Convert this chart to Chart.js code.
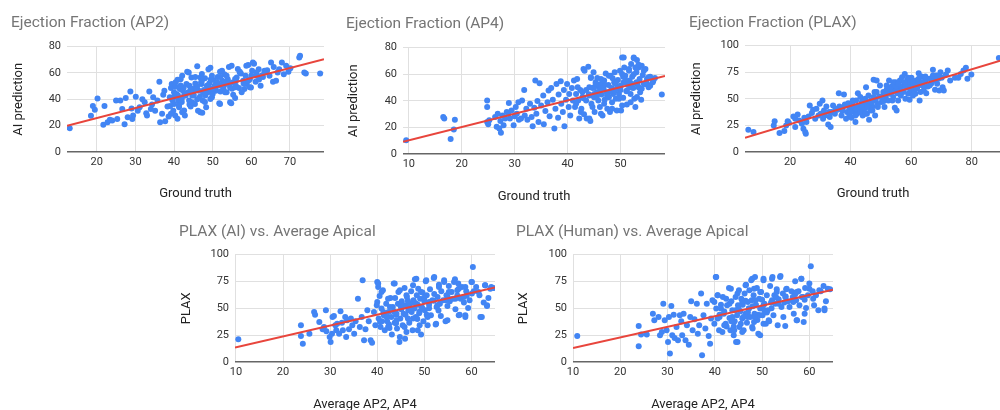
<!DOCTYPE html>
<html>
<head>
<meta charset="utf-8">
<script src="https://cdn.jsdelivr.net/npm/chart.js@4/dist/chart.umd.min.js"></script>
<style>
  body { margin: 0; width: 1000px; height: 410px; overflow: hidden; background: #fff; position: relative; }
  canvas { position: absolute; }
</style>
</head>
<body>
<canvas id="ap2"></canvas>
<canvas id="ap4"></canvas>
<canvas id="plax"></canvas>
<canvas id="plax-ai"></canvas>
<canvas id="plax-human"></canvas>
<script>
// Data, [x, y] pairs
let ap2Points = [
  [13,18],[18.5,27.5],[19,35],[19.5,32],[20.2,40.7],[21.7,20.6],[22,35],[22.8,22.6],[23.4,24.4],[24,24],
  [25,39],[25.3,25],[26.1,39],[26.6,32.7],[27.2,21],[27.5,41],[28,26.4],[28.7,46],[29,33],[29.2,25],
  [29.4,27.7],[30.1,42],[30.6,31.4],[31.1,34],[31.8,40],[32.4,37.7],[32.8,29.4],[33,27.7],[33.6,46],[34,32.7],
  [34.3,36],[34.6,41.5],[35.1,31.4],[35.7,39],[36.2,53.3],[36.4,22.6],[36.9,29],[37.2,43.5],[37.5,46.5],[37.7,23.4],
  [38.3,34.5],[38.6,27],[38.9,41.5],[39.2,48.6],[39.4,51.6],[39.6,39],[39.8,31.4],[40,36.5],[40.3,27.7],[40.4,49.6],
  [40.6,44],[40.9,54.8],[41.1,39],[41.3,34],[41.5,47.8],[41.7,55.3],[42,40.5],[42.1,30.2],[42.3,46.5],[42.6,42.8],
  [42.8,27.7],[43.2,51.6],[43.4,61],[43.7,45.3],[43.9,39],[44,50.3],[44.3,34.5],[44.5,56.6],[44.7,42.8],[45.1,47.8],
  [45.4,36.5],[45.5,52],[46,65],[46.2,31.4],[46.4,46.5],[46.7,42],[46.8,56.6],[47.1,51.6],[47.3,29.7],[47.4,39],
  [47.7,47],[48,56],[48.1,42.8],[48.3,34],[48.5,50.3],[48.8,45.3],[49.1,52],[49.4,64],[49.6,47.8],[49.8,41.5],
  [50.2,54.6],[50.5,50.3],[50.8,46.5],[51.1,52.8],[51.3,57],[51.7,37],[51.9,61],[52.2,50.3],[52.5,54],[52.8,48.6],
  [53,59],[53.4,51.6],[53.6,45.3],[53.9,55.3],[54.2,64.6],[54.5,49],[54.8,37],[55.1,52.8],[55.3,43.5],[55.8,41],
  [56,50.3],[56.2,56.6],[56.5,63],[56.8,48.6],[57.3,59.6],[57.9,54],[58.2,47.8],[58.5,57.9],[58.8,51.6],[59.2,66],
  [59.6,55.3],[59.9,49],[60.2,61.6],[60.7,67],[61.1,53.3],[61.3,57.9],[61.9,62.9],[62.4,50.3],[63,57],[63.4,60.4],
  [64.1,62],[64.7,57.9],[65.1,68],[65.6,53.3],[65.8,64.6],[66.4,54],[66.8,60.4],[67.2,62.9],[67.9,68],[68.4,59],
  [69,65.4],[69.6,61],[70.1,63.6],[72.4,71.7],[72.6,73],[73.7,60.4],[74.1,59.6],[77.8,59.6],
  [41,43],[43,44],[44.5,48],[45,44],[46,50],[47.5,45],[49,49],[50,47],[51,50],[52,46],
  [53,53],[42,38],[44,36],[46,40],[48,38],[50,44],[40,42],[39,35],[42.5,49],[45.5,57],
  [47,53],[49.5,55],[52,57],[54,52],[56,54],[58,52],[60,58],[62,55],[55,48],[57,61],
  [40.4,52.9],[42.1,57.9],[43.8,60.4],[47.2,59.2],[48.9,62.9],[51.1,52.9],[52.4,61.7],[53.6,57.9],[54.9,65.5],[55.8,55.4],
  [57,60.4],[58.7,65.5],[59.2,54.1],[60.4,68],[61.3,60.4],[62.6,57.9],[63.4,61.7],[39.6,40.3],[41.3,35.3],[43,42.8],
  [44.7,37.8],[45.5,47.8],[46.8,30.2],[48.1,45.3],[49.4,40.3],[50.7,50.4],[51.9,36.5],[53.2,45.3],[54.5,37.8],[55.8,49.1],
  [57.5,45.3],[59.6,49.1],[39.2,29],[40.9,25.2],[42.6,31.5],[44.3,47.8],[47.2,54.1],[49.8,57.9],[52.4,50.4],[40,45.3],
  [41.7,50.4],[45.1,42.8]
];
let ap2Trend = [[12.3, 19.9], [78.8, 70.4]];

let ap4Points = [
  [9.5,10.4],[16.5,27.8],[16.7,26.6],[17.9,11.2],[18.5,18.4],[18.7,25.8],[24.8,40.2],[24.8,35.3],[24.8,24],[25,22.4],
  [25.2,25.3],[26.3,27.8],[26.6,20.4],[26.8,30.3],[27.1,19.1],[27.3,24.8],[27.4,15.9],[27.7,29],[27.9,21.6],[28.2,26.6],
  [28.5,31.6],[28.8,30.3],[28.9,38.3],[29.1,26.6],[29.4,32.8],[29.8,21.6],[30,28.3],[30.2,35.3],[30.4,30.3],[30.7,39],
  [30.8,25.8],[31.2,26.6],[31.4,40.2],[31.8,48.2],[31.9,29],[32.2,34],[32.4,25.8],[32.9,37.8],[33.2,27.8],[33.4,20.9],
  [33.7,34.8],[33.9,55.2],[34.1,30.3],[34.3,39.8],[34.5,24.1],[34.7,53.2],[35,36.5],[35.4,44],[35.5,22.4],[35.8,32.3],
  [36.2,39],[36.4,47.7],[36.6,28.3],[36.9,49.7],[37.2,40.7],[37.5,19.1],[37.7,34],[37.9,52.7],[38.2,27.3],[38.3,44.7],
  [38.7,54.7],[38.8,37.8],[39.1,31.6],[39.3,48.2],[39.4,20.9],[39.7,40.7],[39.9,52.7],[40.2,35.3],[40.3,45.2],[40.5,29],
  [40.8,49.7],[41,40.2],[41.2,55.2],[41.4,35.3],[41.6,45.2],[41.8,56.4],[42,40.2],[42.2,26.6],[42.4,48.2],[42.6,34],
  [42.8,42.7],[43,63.9],[43.1,29.8],[43.5,48.2],[43.6,26.6],[43.9,65.6],[44.1,44],[44.3,24.8],[44.4,57.1],[44.5,37.8],
  [44.7,49.7],[44.9,61.4],[45,42.7],[45.1,31.6],[45.3,53.9],[45.5,46.5],[45.6,57.1],[45.8,40.2],[45.9,50.7],[46.1,35.3],
  [46.3,56.4],[46.4,44.7],[46.6,29],[46.8,48.9],[46.9,55.2],[47,40.7],[47.2,60.6],[47.4,46.5],[47.5,34],[47.7,51.9],
  [47.8,42.7],[48,31.6],[48.1,58.9],[48.3,49.7],[48.4,39],[48.6,45.2],[48.8,53.9],[48.9,61.4],[49.1,41.5],[49.3,32.8],
  [49.4,50.7],[49.5,55.7],[49.7,45.2],[49.9,62.6],[50,48.2],[50.1,32.8],[50.3,72.5],[50.5,42.2],[50.6,53.9],[50.7,65.1],
  [50.9,58.9],[51.1,47.2],[51.2,37.3],[51.4,51.9],[51.6,63.9],[51.7,55.2],[51.9,45.2],[52,67.6],[52.2,58.1],[52.4,49.7],
  [52.5,72],[52.6,41.5],[52.8,35.3],[53,61.4],[53.1,70.6],[53.2,52.7],[53.4,65.1],[53.6,56.4],[53.7,46.5],[53.9,40.7],
  [54,66.3],[54.2,59.4],[54.4,52.7],[54.7,63.9],[55,56.4],[55.3,50.2],[55.6,58.1],[56.1,53.9],[56.5,57.1],[57.8,44.7],
  [45,50],[46,47],[47,52],[48,47],[49,48],[50,51],[51,55],[52,50],[53,54],[54,49],
  [55,53],[44,45],[43,42],[45.5,43],[47.5,44],[48.5,57],[50.5,58],[52.5,60],[46,52],[49,53],
  [43.2,62.6],[44.4,57.7],[45.3,52.7],[46.6,55.2],[47.8,58.9],[49.1,54],[50.3,60.2],[51.6,62.6],[52.8,65.1],[53.7,66.4],
  [54.4,62.6],[55.3,57.7],[56.2,55.2],[50.6,72.6],[52.5,72.6],[53.4,67.1],[41.9,50.2],[42.8,46.5],[44.1,50.2],[45,45.2],
  [46.3,49],[47.5,44],[48.8,47.7],[50,51.4],[51.2,47.7],[52.2,52.7],[53.4,50.2],[54.7,52.7],[55.6,51.4],[41.6,37.8],
  [43.5,40.3],[44.7,35.3],[46.9,37.8],[48.4,34.1],[50.3,36.5],[51.9,39],[53.1,42.8],[42.5,31.6],[44.1,26.6],[46.3,30.3],
  [49.7,41.5]
];
let ap4Trend = [[8.9, 9.2], [58.4, 58.6]];

let plaxPoints = [
  [6.2,20.9],[7.9,18.8],[14.6,25],[14.9,29],[16.5,17.8],[18.1,19.7],[18.7,25],[19.2,29],[19.6,27.2],[21.1,33.4],
  [21.7,31.3],[21.7,23.4],[22.5,35.3],[23,29.7],[23.9,26.6],[24.4,21.9],[24.7,32.2],[25,18.8],[25.2,17.2],[25.4,28.1],
  [26.1,33.4],[26.5,43.8],[27.2,36.6],[27.6,39.7],[28.3,31.3],[28.7,40.6],[29.4,34.4],[29.8,45.3],[30.1,35.9],[30.7,48.4],
  [30.9,31.3],[31.2,39.1],[31.5,34.4],[32,42.8],[32.6,25.9],[33.1,32.8],[33.4,23.4],[33.7,37.5],[34.2,43.8],[34.8,35.9],
  [35.6,39.7],[36.1,55.3],[36.3,42.8],[37,34.4],[37.4,41.6],[37.8,54.1],[38.1,44.7],[38.5,31.3],[38.8,37.5],[39.2,45.9],
  [39.6,34.4],[39.9,40.6],[40.3,32.2],[40.5,45.3],[41,37.5],[41.4,42.2],[41.6,28.1],[41.8,48.4],[42.1,35.9],[42.4,55.3],
  [42.9,42.8],[43.2,51.6],[43.5,39.1],[43.7,46.9],[44,34.4],[44.3,44.7],[44.6,40.6],[44.8,50],[45.1,60.9],[45.4,35.9],
  [45.7,43.8],[45.9,53.1],[46.1,30.3],[46.5,39.1],[46.8,48.4],[47.2,42.8],[47.6,67.8],[47.9,56.3],[48.1,34.4],[48.3,48.4],
  [48.6,67.2],[49,42.2],[49.4,52.2],[49.7,62.5],[50.3,46.9],[50.8,56.3],[51.2,42.2],[51.6,51.6],[51.9,58.4],[52.5,48.4],
  [52.7,67.2],[53,54.7],[53.6,61.6],[53.8,48.4],[54.1,51.6],[54.4,59.4],[54.6,41.6],[54.9,65.6],[55.2,39.1],[55.5,55.3],
  [55.7,48.4],[55.9,60.3],[56.3,67.2],[56.6,53.1],[56.8,61.6],[57,70.3],[57.4,56.3],[57.7,64.1],[57.9,73.4],[58.1,50],
  [58.5,60.3],[58.8,67.8],[59,54.7],[59.2,62.8],[59.5,49.1],[59.8,57.8],[60.1,69.7],[60.6,53.1],[60.9,63.8],[61.4,54.7],
  [61.7,67.2],[62,60.3],[62.5,74.1],[62.8,48.4],[63.1,56.3],[63.4,70.9],[63.6,62.8],[63.9,65.6],[64.2,57.8],[64.7,67.2],
  [65,55.3],[65.5,61.6],[66.1,68.8],[66.6,64.1],[67.2,77.2],[67.5,67.2],[67.9,58.4],[68.3,71.9],[68.6,64.1],[69,68.8],
  [69.3,57.8],[69.7,75],[70.1,69.7],[70.4,60.9],[70.8,57.8],[71.5,72.8],[72.1,76.6],[72.9,67.2],[74.5,69.7],[75.6,69.7],
  [76.4,73.4],[77.3,76.6],[78.1,79.1],[78.6,68.8],[79.9,72.8],[89,88.4],
  [42,40],[44,42],[46,45],[48,50],[50,52],[52,55],[54,57],[56,58],[58,63],[60,60],
  [62,65],[64,62],[43,38],[47,46],[51,48],[55,62],[59,66],[61,58],[45,48],[49,45],
  [39.4,42.8],[40.7,48.4],[42.1,40.6],[43.2,37.5],[44.3,48.4],[45.4,42.2],[46.5,46.9],[47.6,51.6],[48.6,56.3],[50.3,51.6],
  [51.9,62.5],[53,59.4],[54.1,65.6],[55.7,64.1],[56.8,57.8],[57.9,65.6],[59,69.7],[60.6,65.6],[61.7,59.4],[62.5,68.8],
  [63.6,65.6],[64.7,70.9],[66.1,62.5],[67.2,71.9],[68.8,70.9],[39.9,37.5],[41.6,34.4],[44.8,35.9],[47.2,39.1],[37.2,39.1],
  [35,40.6],[32.9,37.5]
];
let plaxTrend = [[5.1, 13.4], [89.7, 86.1]];

let plaxAiPoints = [
  [10.5,21.1],[23.8,34.2],[23.8,24.2],[24.2,17.1],[25.6,26.4],[26.6,46.6],[26.8,44.1],[27.7,37.3],[28.4,30.4],[28.7,32.6],
  [29.1,48.1],[29.2,28.6],[29.9,23.3],[30.1,18.6],[30.4,26.4],[30.5,41.9],[30.8,42.9],[31.1,34.2],[31.3,29.5],[31.5,35.7],
  [31.9,26.4],[32.2,47.2],[32.5,36.6],[32.7,29.5],[33.2,41.9],[33.4,23.3],[33.6,38.8],[34,30.4],[34.4,40.4],[34.7,34.2],
  [35.1,26.4],[35.4,37.9],[35.9,59],[36.3,32.6],[36.7,41.9],[36.9,76.1],[37.2,20.2],[37.5,30.4],[37.9,48.1],[38.2,37.9],
  [38.6,20.2],[38.9,18],[39.3,46.6],[39.6,34.2],[40,74.5],[40,55.9],[40.2,69.9],[40.3,40.4],[40.5,61.5],[40.7,32.6],
  [40.9,49.7],[41.2,66.8],[41.4,43.5],[41.6,29.5],[41.9,54.3],[42.1,37.9],[42.4,46.6],[42.6,31.7],[42.8,59.6],[43,41.9],
  [43.1,25.5],[43.3,51.2],[43.5,73],[43.7,36.6],[43.8,59.6],[44,44.1],[44.2,31.1],[44.4,54.3],[44.5,65.2],[44.7,18.6],
  [44.9,40.4],[45.1,49.1],[45.2,56.5],[45.4,34.2],[45.6,45],[45.8,68.9],[45.9,21.7],[46.1,52.8],[46.3,60.6],[46.5,40.4],
  [46.6,48.1],[46.8,36.6],[47,54.3],[47.2,65.8],[47.3,46.6],[47.5,29.5],[47.7,57.5],[47.9,49.7],[48,77],[48.2,41.9],
  [48.4,62.1],[48.6,53.4],[48.7,68.3],[48.9,45.4],[49.1,59],[49.3,25.5],[49.4,51.2],[49.6,64.6],[49.8,37.9],[50,56.5],
  [50.1,48.1],[50.3,75.2],[50.5,62.1],[50.7,34.2],[51,53.4],[51.2,67.7],[51.4,43.5],[51.7,57.5],[52,78.3],[52.1,63.4],
  [52.4,34.8],[52.6,51.2],[52.8,60.6],[53.1,72],[53.3,54.3],[53.5,42.9],[53.6,65.8],[54,57.5],[54.2,76.1],[54.5,37.9],
  [54.7,62.1],[54.9,52.2],[55.2,70.8],[55.4,56.5],[55.8,65.2],[56.1,59],[56.5,77],[56.6,49.1],[57,66.8],[57.2,73],
  [57.5,44.1],[57.7,59],[58,69.9],[58.4,55.3],[58.7,43.5],[58.9,65.8],[59.3,50.3],[59.6,57.5],[60,74.5],[60.3,88.5],
  [60.5,65.8],[61,69.9],[61.7,62.1],[62.2,41.9],[62.6,55.3],[62.9,71.4],[63.3,52.2],[63.6,59.6],[64.2,69.9],[64.7,68.9],
  [42,42],[43.5,47],[45,52],[46,44],[47,50],[48,55],[49,47],[50,60],[51,50],[52,57],
  [53,48],[44,36],[46.5,57],[48.5,40],[50.5,44],[41,38],[42.5,35],[55,60],[57,62],[59,62],
  [40.2,73],[40.9,65.2],[42.3,59],[43.7,73],[44.8,66.8],[46.2,62.1],[47.6,71.4],[48.3,77.6],[49.3,65.2],[50.4,76.1],
  [52.1,79.2],[53.1,69.9],[54.2,74.5],[55.2,65.2],[56.3,74.5],[57.3,68.3],[58.7,69.9],[60.1,74.5],[61.5,65.2],[62.9,71.4],
  [64,68.3],[39.9,52.8],[41.3,46.6],[42.7,51.2],[44.1,45],[45.5,52.8],[46.9,48.1],[48.3,54.3],[49.6,49.7],[51,55.9],
  [52.8,52.8],[54.5,57.5],[56.6,59],[58.4,60.6],[60.1,63.7],[40.6,37.3],[42.3,32.6],[44.1,38.8],[45.8,32.6],[47.6,40.4],
  [49,34.2],[50.7,41.9],[52.5,35.7],[54.9,38.8],[44.8,23.3],[46.2,28],[48.6,29.5],[57.3,43.5],[58.7,41.9],[63.3,52.8],
  [61.9,41.9]
];
let plaxAiTrend = [[9.8, 13.4], [65, 69.3]];

let plaxHumanPoints = [
  [10.9,24.2],[23.9,33.5],[23.9,14.6],[24.4,25.5],[25.6,25.5],[26.9,45],[27.2,38.8],[28.1,41.9],[28.4,24.8],[28.8,28],
  [29.1,54.3],[29.4,38.8],[29.8,29.5],[30.1,18.6],[30.3,41.9],[30.5,7.8],[30.8,52.2],[31,24.8],[31.3,44.1],[31.5,22.4],
  [31.9,32.6],[32.2,20.2],[32.6,43.5],[32.9,37.9],[33.1,24.8],[33.4,45],[33.8,20.2],[34.1,34.2],[34.5,16.1],[34.8,41.9],
  [35,56.5],[35.3,29.5],[35.7,39.8],[36.2,54.3],[36.4,26.4],[36.7,34.2],[37.1,63.7],[37.3,6.2],[37.6,43.5],[38,31.1],
  [38.3,54.3],[38.7,24.2],[39,17.1],[39.2,40.4],[39.5,57.5],[39.9,35.7],[40.2,79.2],[40.3,49.7],[40.6,62.1],[40.9,29.5],
  [41,41.9],[41.3,53.4],[41.6,28],[41.7,60.6],[41.9,45],[42.3,35.7],[42.6,52.8],[43,68.9],[43.1,41],[43.3,29.5],
  [43.5,56.5],[43.7,48.1],[44,24.8],[44.2,37.9],[44.4,60.6],[44.5,18.6],[44.7,43.5],[44.9,52.8],[45.1,66.8],[45.2,32.6],
  [45.4,47.2],[45.6,59],[45.8,40.4],[45.9,53.4],[46.1,29.5],[46.3,63.7],[46.5,45],[46.6,72],[46.8,36.6],[47,55.9],
  [47.2,49.7],[47.3,66.8],[47.5,41.9],[47.7,76.1],[47.8,57.5],[48,31.1],[48.2,62.1],[48.4,45],[48.5,79.2],[48.7,53.4],
  [48.9,68.9],[49.1,44.1],[49.2,26.4],[49.4,59],[49.6,49.7],[49.8,65.2],[50.1,43.5],[50.3,77.6],[50.5,54.3],[50.8,35.7],
  [51,62.1],[51.2,48.1],[51.5,37.9],[51.7,70.8],[51.9,55.3],[52.2,79.2],[52.4,43.5],[52.6,62.1],[52.8,54.3],[53.1,67.7],
  [53.3,34.2],[53.5,58.4],[53.9,80.1],[54.1,51.2],[54.4,63.7],[54.7,55.3],[54.9,33.5],[55.1,67.7],[55.5,56.5],[55.8,51.2],
  [56.2,65.8],[56.5,60.6],[56.7,45],[57,75.2],[57.2,57.5],[57.4,38.8],[57.7,65.8],[57.9,52.8],[58.3,77.6],[58.4,60.6],
  [58.8,37.3],[59.1,68.9],[59.3,50.3],[59.7,62.1],[60,73],[60.3,89.1],[60.7,65.8],[61,52.8],[61.4,62.1],[61.9,48.1],
  [62.4,65.8],[63,70.8],[63.2,48.1],[63.5,56.5],[64.4,67.7],
  [42,47],[43.5,38],[45,50],[46,42],[47,46],[48,52],[49,39],[50,58],[51,46],[52,50],
  [53,60],[44,33],[46.5,57],[48.5,42],[50.5,48],[41,44],[42.5,33],[55,61],[57,63],[59,58],
  [40.3,79.2],[40.6,62.1],[42.4,59],[43.4,68.3],[44.8,63.7],[46.5,71.4],[47.9,77.6],[48.3,68.3],[49.6,65.2],[50.3,76.1],
  [52.1,77.6],[53.8,79.2],[53.1,65.2],[55.2,68.3],[57.3,65.2],[58.3,77.6],[60,68.3],[62.1,66.8],[63.9,68.3],[39.9,55.9],
  [41.3,49.7],[43.1,54.3],[44.4,48.1],[45.8,55.9],[47.2,49.7],[48.6,57.5],[50.3,52.8],[52.1,57.5],[53.5,54.3],[54.9,60.6],
  [56.6,55.9],[58.7,60.6],[60.8,59],[40.6,40.4],[42,34.2],[43.7,41.9],[45.5,35.7],[46.9,41.9],[48.3,37.3],[49.6,43.5],
  [51.4,38.8],[44.1,29.5],[45.8,28],[47.9,32.6],[50.3,35.7],[54.5,41.9],[57.3,38.8],[59,45],[63.2,49.7],[44.8,18.6],
  [49.6,24.8]
];
let plaxHumanTrend = [[10, 13], [65, 67.4]];

// Axis ranges and labels
let efXRanges = { ap2: [12.3, 78.8], ap4: [8.9, 58.4], plax: [5.1, 89.7] };
let apicalXRange = [9.8, 65];
let ef80Ticks = [0, 80, 20];
let ef100Ticks = [0, 100, 25];

// Colours
let pointBlue = '#4285f4';
let trendRed = '#e8453c';
let gridGray = '#e0e0e0';

Chart.defaults.font.family = 'Roboto, "Liberation Sans", Arial, sans-serif';

//=======================================
//  Draw one scatter panel
//=======================================
function drawScatter(id, box, points, trend, xRange, xStep, yTicks, titles) {
  let canvas = document.getElementById(id);
  canvas.width = box.width;
  canvas.height = box.height;
  canvas.style.left = box.left + 'px';
  canvas.style.top = box.top + 'px';

  return new Chart(canvas, {
    type: 'scatter',
    data: {
      datasets: [{
        type: 'line',
        data: trend.map(p => ({ x: p[0], y: p[1] })),
        borderColor: trendRed,
        borderWidth: 2,
        pointRadius: 0,
        fill: false
      }, {
        data: points.map(p => ({ x: p[0], y: p[1] })),
        backgroundColor: pointBlue,
        borderWidth: 0,
        pointRadius: 3,
        pointHoverRadius: 3
      }]
    },
    options: {
      responsive: false,
      animation: false,
      events: [],
      layout: { padding: 0 },
      plugins: {
        legend: { display: false },
        tooltip: { enabled: false },
        title: {
          display: true,
          text: titles.main,
          align: 'start',
          color: '#757575',
          font: { size: 15.5, weight: 'normal' },
          padding: { top: box.titleTop, bottom: box.titleBottom }
        }
      },
      scales: {
        x: {
          type: 'linear',
          min: xRange[0],
          max: xRange[1],
          border: { display: false },
          grid: { color: gridGray, drawTicks: false },
          ticks: { stepSize: xStep, includeBounds: false, padding: 4, color: '#333', font: { size: 11 } },
          title: {
            display: true,
            text: titles.x,
            color: '#222',
            font: { size: 13 },
            padding: { top: 0, bottom: box.xTitleBottom }
          },
          afterFit: s => { s.height = box.xAxisHeight; }
        },
        y: {
          min: yTicks[0],
          max: yTicks[1],
          border: { display: false },
          grid: {
            drawTicks: false,
            color: c => c.tick.value === 0 ? '#666' : gridGray,
            lineWidth: c => c.tick.value === 0 ? 1.5 : 1
          },
          ticks: { stepSize: yTicks[2], padding: 6, color: '#333', font: { size: 11 } },
          title: {
            display: true,
            text: titles.y,
            color: '#222',
            font: { size: 13 },
            padding: { top: 0, bottom: 0 }
          },
          afterFit: s => { s.width = box.yAxisWidth; }
        }
      }
    }
  });
}

// Panel boxes on the page
let boxes = {
  ap2:   { left: 11,  top: 0,   width: 316, height: 210, yAxisWidth: 56, xAxisHeight: 58, titleTop: 14, titleBottom: 14, xTitleBottom: 8.5 },
  ap4:   { left: 346, top: 0,   width: 322, height: 210, yAxisWidth: 57, xAxisHeight: 56, titleTop: 15, titleBottom: 14, xTitleBottom: 5 },
  plax:  { left: 689, top: 0,   width: 315, height: 210, yAxisWidth: 56, xAxisHeight: 58, titleTop: 14, titleBottom: 13, xTitleBottom: 8.5 },
  ai:    { left: 179, top: 212, width: 319, height: 205, yAxisWidth: 56, xAxisHeight: 55, titleTop: 11, titleBottom: 13, xTitleBottom: 4 },
  human: { left: 516, top: 212, width: 320, height: 205, yAxisWidth: 57, xAxisHeight: 55, titleTop: 11, titleBottom: 13, xTitleBottom: 4 }
};

drawScatter('ap2', boxes.ap2, ap2Points, ap2Trend, efXRanges.ap2, 10, ef80Ticks,
  { main: 'Ejection Fraction (AP2)', x: 'Ground truth', y: 'AI prediction' });
drawScatter('ap4', boxes.ap4, ap4Points, ap4Trend, efXRanges.ap4, 10, ef80Ticks,
  { main: 'Ejection Fraction (AP4)', x: 'Ground truth', y: 'AI prediction' });
drawScatter('plax', boxes.plax, plaxPoints, plaxTrend, efXRanges.plax, 20, ef100Ticks,
  { main: 'Ejection Fraction (PLAX)', x: 'Ground truth', y: 'AI prediction' });
drawScatter('plax-ai', boxes.ai, plaxAiPoints, plaxAiTrend, apicalXRange, 10, ef100Ticks,
  { main: 'PLAX (AI) vs. Average Apical', x: 'Average AP2, AP4', y: 'PLAX' });
drawScatter('plax-human', boxes.human, plaxHumanPoints, plaxHumanTrend, [10, 65], 10, ef100Ticks,
  { main: 'PLAX (Human) vs. Average Apical', x: 'Average AP2, AP4', y: 'PLAX' });
</script>
</body>
</html>
